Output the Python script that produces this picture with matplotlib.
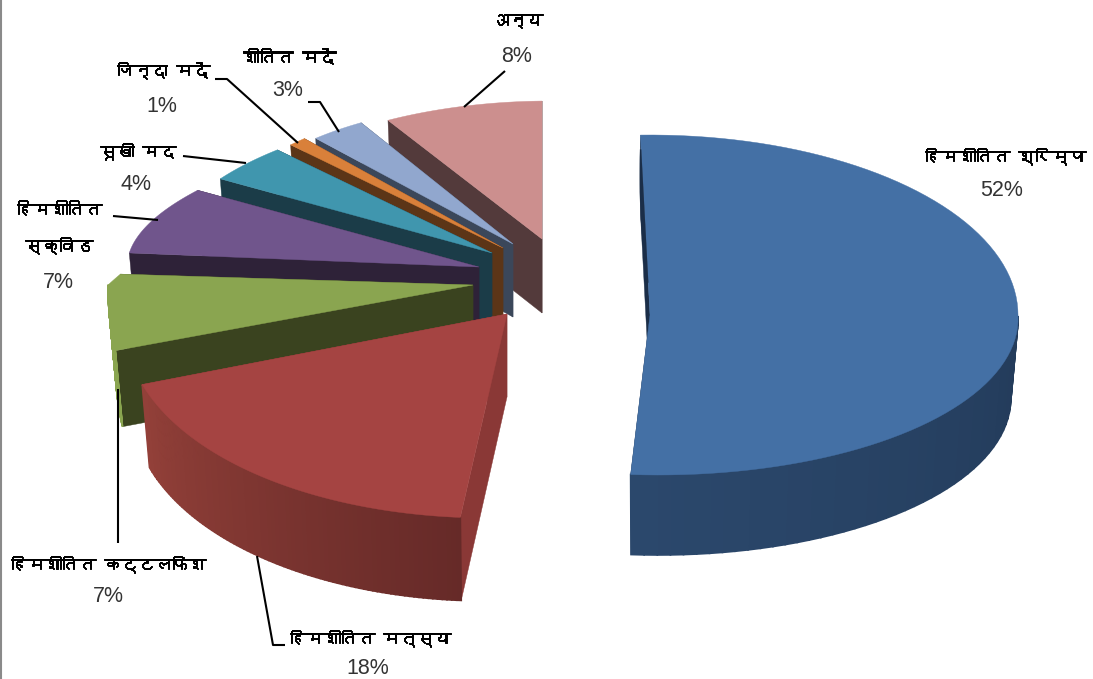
import numpy as np
import matplotlib
matplotlib.use("Agg")
import matplotlib.pyplot as plt
import matplotlib.patheffects as pe
from matplotlib import font_manager as fm
from matplotlib.ft2font import FT2Font

# ---------- data ----------
names = ["हिमशीतित श्रिम्प", "हिमशीतित मत्स्य", "हिमशीतित कट्टलफिश", "हिमशीतित\nस्क्विड",
         "सूखी मद", "जिन्दा मदें", "शीतित मदें", "अन्य"]
shares = [51.6, 18.2, 7.1, 7.0, 4.0, 1.0, 3.0, 8.1]

# ---------- styles ----------
top_col = ["#4470A5", "#A54442", "#8AA550", "#70558C", "#4096AE", "#D9803A", "#91A7CE", "#CC8F8E"]
cut_col = ["#1B2E48", "#8A3836", "#3A431F", "#2E2238", "#1B3C48", "#5C3517", "#3B475A", "#533A3B"]
wall_a = ["#1B2E48", "#662A28", "#8AA550", "#2E2238", "#1B3C48", "#5C3517", "#3B475A", "#533A3B"]
wall_b = ["#2B486C", "#934039", "#8AA550", "#2E2238", "#1B3C48", "#5C3517", "#3B475A", "#533A3B"]
apex_x = [650, 507, 473, 479, 492, 503, 513, 542]
apex_y = [315, 314, 285, 267, 253, 248, 244, 239]
rad_x = [368, 382, 365, 352, 325, 300, 298, 316]
rad_up = [180, 197, 117, 151, 146, 146, 141, 138]
rad_dn = [160, 204, 190, 151, 146, 146, 141, 138]
x_pow = [1, 1, .32, 1.5, 1.2, 1, 1, 1]
shear = [.05, -.09, 0, 0, 0, 0, 0, 0]
shear_up = [0, 0, -1.09, 0, 0, 0, 0, -.06]
depth = [80, 83, 76, 76, 74, 74, 73, 74]
start_deg = 91.5
wall_shrink = .98

name_xy = [(1005, 156), (370, 638), (108, 564), (59, 228), (138, 151), (163, 70), (289, 57), (517, 21)]
pct_xy = [(1002, 190), (368, 669), (108, 597), (58, 282), (136, 184), (162, 106), (288, 90), (517, 56)]
leaders = [None,
           [(257, 556), (273, 645), (285, 645)],
           [(118, 389), (118, 543)],
           [(113, 216), (158, 220)],
           [(183, 156), (246, 163)],
           [(215, 79), (227, 79), (298, 143)],
           [(308, 102), (320, 102), (339, 132)],
           [(505, 71), (464, 107)]]


def deva_font():
    for f in fm.fontManager.ttflist:
        try:
            if 0x0939 in FT2Font(f.fname).get_charmap():
                return f.name
        except Exception:
            pass
    return "Noto Sans"


deva = deva_font()
fig = plt.figure(figsize=(10.93, 6.79), dpi=100)
ax = fig.add_axes([0, 0, 1, 1])
ax.set_xlim(0, 1093)
ax.set_ylim(679, 0)
ax.axis("off")


def ring(i, th, drop=0.0, shrink=1.0):
    c, s = np.cos(th), np.sin(th)
    ry = np.where(s > 0, rad_up[i], rad_dn[i])
    dy = -ry * s
    dx = (rad_x[i] * np.sign(c) * np.abs(c) ** x_pow[i]
          + shear[i] * np.maximum(dy, 0) + shear_up[i] * np.minimum(dy, 0))
    return apex_x[i] + dx * shrink, apex_y[i] + dy + drop


def lerp(a, b, t):
    a, b = np.array(matplotlib.colors.to_rgb(a)), np.array(matplotlib.colors.to_rgb(b))
    return a + (b - a) * t


edges = start_deg - np.cumsum([0] + shares) * 3.6
order = list(range(len(shares)))[::-1]
for i in order:
    th = np.radians(np.linspace(edges[i], edges[i + 1], 90))
    d = depth[i]
    x, y = ring(i, th)
    xb, yb = ring(i, th, d, wall_shrink)
    ax_, ay_ = apex_x[i], apex_y[i]
    for k in (0, -1):
        ax.fill([ax_, x[k], xb[k], ax_], [ay_, y[k], yb[k], ay_ + d], color=cut_col[i], lw=.3, zorder=i * -3 + 30)
    for k in range(len(th) - 1):
        if np.sin(th[k]) >= 0:
            continue
        t = k / (len(th) - 2)
        ax.fill([x[k], x[k + 1], xb[k + 1], xb[k]], [y[k], y[k + 1], yb[k + 1], yb[k]],
                color=lerp(wall_a[i], wall_b[i], t), lw=1.2, zorder=i * -3 + 31)
    ax.fill(np.r_[ax_, x], np.r_[ay_, y], color=top_col[i], lw=.3, zorder=i * -3 + 32)

# dark inner sliver beside the first slice
th0 = np.radians(edges[0])
px, py = ring(0, np.array([th0]))
tt = np.linspace(.08, .82, 20)
ex = px[0] + (apex_x[0] - px[0]) * tt
ey = py[0] + (apex_y[0] - py[0]) * tt
ax.fill(np.r_[ex, (ex - 4 * np.sin(np.pi * tt / .9))[::-1]], np.r_[ey, ey[::-1]], color=cut_col[0], lw=.2, zorder=40)

for seg in leaders:
    if seg:
        xs, ys = zip(*seg)
        ax.plot(xs, ys, color="black", lw=1.5, solid_capstyle="butt", zorder=50)

for n, s, nxy, pxy in zip(names, shares, name_xy, pct_xy):
    ax.text(*nxy, n, family=[deva, "DejaVu Sans"], fontsize=12.2, ha="center", va="center",
            linespacing=2.3, color="black", zorder=60,
            path_effects=[pe.withStroke(linewidth=.7, foreground="black")])
    ax.text(*pxy, f"{round(s)}%", family="Liberation Sans", fontsize=15.5, ha="center", va="center", color="#333333", zorder=60)

ax.plot([0.8, 0.8], [0, 679], color="#8a8a8a", lw=1.5, zorder=70)
fig.savefig("out.png", dpi=100)
